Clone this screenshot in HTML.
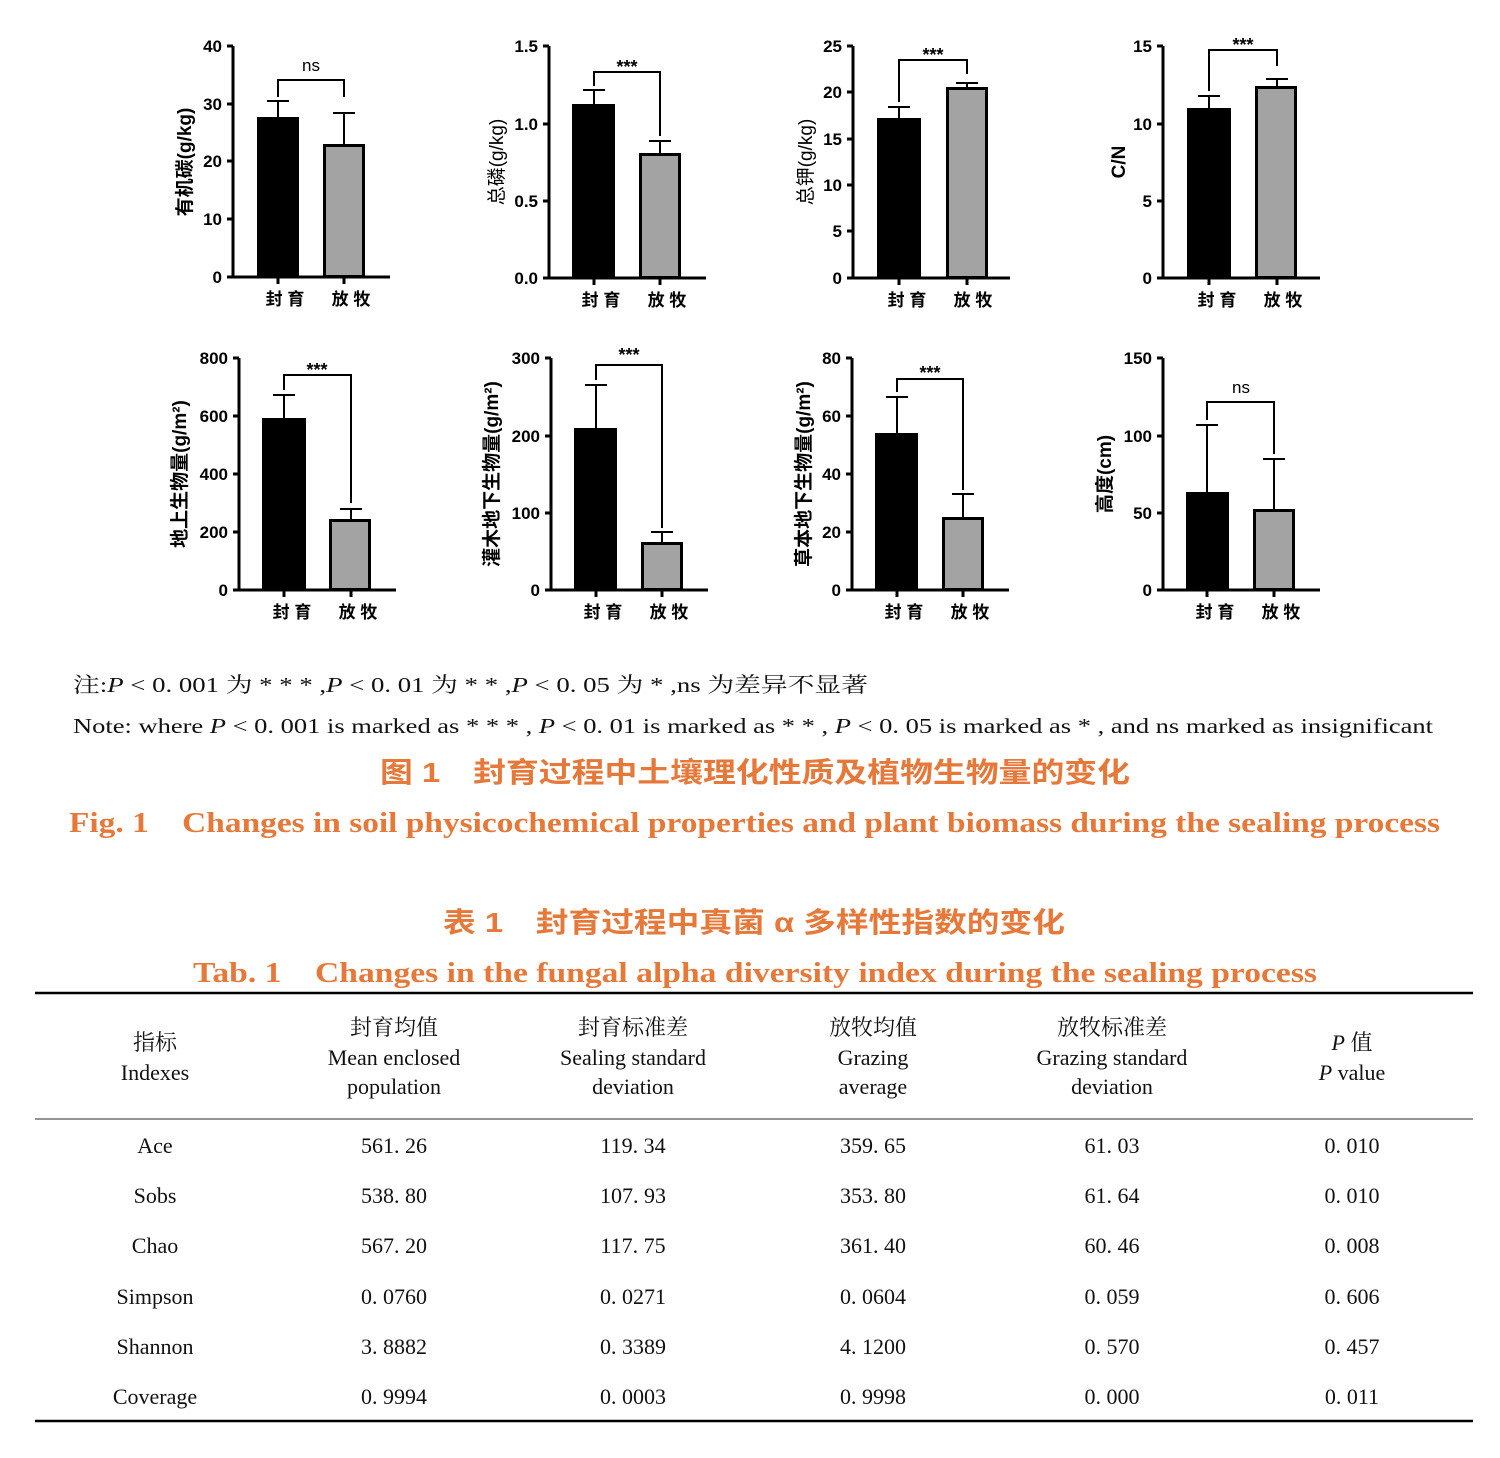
<!DOCTYPE html>
<html><head><meta charset="utf-8"><style>
body{margin:0;background:#fff}
svg{display:block}
.t{font-family:"Liberation Sans","Noto Sans CJK SC",sans-serif;font-weight:bold;font-size:17px;fill:#000}
.st{font-size:18px}
.yl{font-family:"Liberation Sans","Noto Sans CJK SC",sans-serif;font-weight:bold;font-size:19px;fill:#000}
.s{font-family:"Liberation Serif","Noto Serif CJK SC",serif;font-size:21px;fill:#111}
.o{font-family:"Liberation Serif","Noto Serif CJK SC",serif;font-weight:bold;font-size:29px;fill:#e6793a}
.oc{font-family:"Liberation Sans","Noto Sans CJK SC",sans-serif;font-weight:bold;font-size:28px;fill:#e6793a}
.tb{font-family:"Liberation Serif","Noto Serif CJK SC",serif;font-size:22px;fill:#111;text-anchor:middle}
line,path{stroke:#000;stroke-width:3;fill:none}
.e{stroke-width:2}
</style></head><body>
<svg width="1500" height="1458" xmlns="http://www.w3.org/2000/svg">
<!-- Chart 1 -->
<g>
<line x1="233" y1="46" x2="233" y2="278"/><line x1="232" y1="277" x2="390" y2="277"/>
<line x1="227" y1="46" x2="233" y2="46"/><line x1="227" y1="104" x2="233" y2="104"/><line x1="227" y1="161" x2="233" y2="161"/><line x1="227" y1="219" x2="233" y2="219"/><line x1="227" y1="277" x2="233" y2="277"/>
<text class="t" x="222" y="52" text-anchor="end">40</text><text class="t" x="222" y="110" text-anchor="end">30</text><text class="t" x="222" y="167" text-anchor="end">20</text><text class="t" x="222" y="225" text-anchor="end">10</text><text class="t" x="222" y="283" text-anchor="end">0</text>
<line x1="278" y1="277" x2="278" y2="284"/><line x1="344" y1="277" x2="344" y2="284"/>
<line class="e" x1="278" y1="117" x2="278" y2="101"/><line class="e" x1="267" y1="101" x2="289" y2="101"/>
<rect x="257" y="117" width="42" height="160" fill="#000"/>
<line class="e" x1="344" y1="145" x2="344" y2="113"/><line class="e" x1="333" y1="113" x2="355" y2="113"/>
<rect x="324.5" y="145.5" width="39" height="131" fill="#a3a3a3" stroke="#000" stroke-width="3"/>
<path d="M278 97V80H344V97" class="e"/><text class="t" x="311" y="71" text-anchor="middle" style="font-weight:normal;font-size:17px">ns</text>
<text class="t" x="285" y="305" text-anchor="middle">封 育</text><text class="t" x="351" y="305" text-anchor="middle">放 牧</text>
<text class="yl" transform="translate(191,162) rotate(-90)" text-anchor="middle">有机碳(g/kg)</text>
</g>
<!-- Chart 2 -->
<g>
<line x1="549" y1="46" x2="549" y2="279"/><line x1="548" y1="278" x2="706" y2="278"/>
<line x1="543" y1="46" x2="549" y2="46"/><line x1="543" y1="124" x2="549" y2="124"/><line x1="543" y1="201" x2="549" y2="201"/><line x1="543" y1="278" x2="549" y2="278"/>
<text class="t" x="538" y="52" text-anchor="end">1.5</text><text class="t" x="538" y="130" text-anchor="end">1.0</text><text class="t" x="538" y="207" text-anchor="end">0.5</text><text class="t" x="538" y="284" text-anchor="end">0.0</text>
<line x1="594" y1="278" x2="594" y2="285"/><line x1="660" y1="278" x2="660" y2="285"/>
<line class="e" x1="594" y1="104" x2="594" y2="90"/><line class="e" x1="583" y1="90" x2="605" y2="90"/>
<rect x="572" y="104" width="43" height="174" fill="#000"/>
<line class="e" x1="660" y1="154" x2="660" y2="141"/><line class="e" x1="649" y1="141" x2="671" y2="141"/>
<rect x="640.5" y="154.5" width="39" height="123" fill="#a3a3a3" stroke="#000" stroke-width="3"/>
<path d="M594 86V72H660V136" class="e"/><text class="t st" x="627" y="73" text-anchor="middle">***</text>
<text class="t" x="601" y="306" text-anchor="middle">封 育</text><text class="t" x="667" y="306" text-anchor="middle">放 牧</text>
<text class="yl" transform="translate(503,162) rotate(-90)" text-anchor="middle" style="font-weight:normal">总磷(g/kg)</text>
</g>
<!-- Chart 3 -->
<g>
<line x1="853" y1="46" x2="853" y2="279"/><line x1="852" y1="278" x2="1010" y2="278"/>
<line x1="847" y1="46" x2="853" y2="46"/><line x1="847" y1="92" x2="853" y2="92"/><line x1="847" y1="139" x2="853" y2="139"/><line x1="847" y1="185" x2="853" y2="185"/><line x1="847" y1="231" x2="853" y2="231"/><line x1="847" y1="278" x2="853" y2="278"/>
<text class="t" x="842" y="52" text-anchor="end">25</text><text class="t" x="842" y="98" text-anchor="end">20</text><text class="t" x="842" y="145" text-anchor="end">15</text><text class="t" x="842" y="191" text-anchor="end">10</text><text class="t" x="842" y="237" text-anchor="end">5</text><text class="t" x="842" y="284" text-anchor="end">0</text>
<line x1="899" y1="278" x2="899" y2="285"/><line x1="967" y1="278" x2="967" y2="285"/>
<line class="e" x1="899" y1="118" x2="899" y2="107"/><line class="e" x1="888" y1="107" x2="910" y2="107"/>
<rect x="877" y="118" width="44" height="160" fill="#000"/>
<line class="e" x1="967" y1="88" x2="967" y2="83"/><line class="e" x1="956" y1="83" x2="978" y2="83"/>
<rect x="947.5" y="88.5" width="39" height="189" fill="#a3a3a3" stroke="#000" stroke-width="3"/>
<path d="M899 102V60H967V74" class="e"/><text class="t st" x="933" y="61" text-anchor="middle">***</text>
<text class="t" x="907" y="306" text-anchor="middle">封 育</text><text class="t" x="973" y="306" text-anchor="middle">放 牧</text>
<text class="yl" transform="translate(812,162) rotate(-90)" text-anchor="middle" style="font-weight:normal">总钾(g/kg)</text>
</g>
<!-- Chart 4 -->
<g>
<line x1="1163" y1="46" x2="1163" y2="279"/><line x1="1162" y1="278" x2="1320" y2="278"/>
<line x1="1157" y1="46" x2="1163" y2="46"/><line x1="1157" y1="124" x2="1163" y2="124"/><line x1="1157" y1="201" x2="1163" y2="201"/><line x1="1157" y1="278" x2="1163" y2="278"/>
<text class="t" x="1152" y="52" text-anchor="end">15</text><text class="t" x="1152" y="130" text-anchor="end">10</text><text class="t" x="1152" y="207" text-anchor="end">5</text><text class="t" x="1152" y="284" text-anchor="end">0</text>
<line x1="1209" y1="278" x2="1209" y2="285"/><line x1="1277" y1="278" x2="1277" y2="285"/>
<line class="e" x1="1209" y1="108" x2="1209" y2="96"/><line class="e" x1="1198" y1="96" x2="1220" y2="96"/>
<rect x="1187" y="108" width="44" height="170" fill="#000"/>
<line class="e" x1="1277" y1="87" x2="1277" y2="79"/><line class="e" x1="1266" y1="79" x2="1288" y2="79"/>
<rect x="1256.5" y="87.5" width="39" height="190" fill="#a3a3a3" stroke="#000" stroke-width="3"/>
<path d="M1209 91V50H1277V66" class="e"/><text class="t st" x="1243" y="51" text-anchor="middle">***</text>
<text class="t" x="1217" y="306" text-anchor="middle">封 育</text><text class="t" x="1283" y="306" text-anchor="middle">放 牧</text>
<text class="yl" transform="translate(1125,162) rotate(-90)" text-anchor="middle">C/N</text>
</g>
<!-- Chart 5 -->
<g>
<line x1="239" y1="358" x2="239" y2="591"/><line x1="238" y1="590" x2="396" y2="590"/>
<line x1="233" y1="358" x2="239" y2="358"/><line x1="233" y1="416" x2="239" y2="416"/><line x1="233" y1="474" x2="239" y2="474"/><line x1="233" y1="532" x2="239" y2="532"/><line x1="233" y1="590" x2="239" y2="590"/>
<text class="t" x="228" y="364" text-anchor="end">800</text><text class="t" x="228" y="422" text-anchor="end">600</text><text class="t" x="228" y="480" text-anchor="end">400</text><text class="t" x="228" y="538" text-anchor="end">200</text><text class="t" x="228" y="596" text-anchor="end">0</text>
<line x1="284" y1="590" x2="284" y2="597"/><line x1="351" y1="590" x2="351" y2="597"/>
<line class="e" x1="284" y1="418" x2="284" y2="395"/><line class="e" x1="273" y1="395" x2="295" y2="395"/>
<rect x="262" y="418" width="44" height="172" fill="#000"/>
<line class="e" x1="351" y1="520" x2="351" y2="509"/><line class="e" x1="340" y1="509" x2="362" y2="509"/>
<rect x="330.5" y="520.5" width="39" height="69" fill="#a3a3a3" stroke="#000" stroke-width="3"/>
<path d="M284 390V375H351V503" class="e"/><text class="t st" x="317" y="376" text-anchor="middle">***</text>
<text class="t" x="292" y="618" text-anchor="middle">封 育</text><text class="t" x="358" y="618" text-anchor="middle">放 牧</text>
<text class="yl" transform="translate(186,474) rotate(-90)" text-anchor="middle">地上生物量(g/m²)</text>
</g>
<!-- Chart 6 -->
<g>
<line x1="551" y1="358" x2="551" y2="591"/><line x1="550" y1="590" x2="708" y2="590"/>
<line x1="545" y1="358" x2="551" y2="358"/><line x1="545" y1="436" x2="551" y2="436"/><line x1="545" y1="513" x2="551" y2="513"/><line x1="545" y1="590" x2="551" y2="590"/>
<text class="t" x="540" y="364" text-anchor="end">300</text><text class="t" x="540" y="442" text-anchor="end">200</text><text class="t" x="540" y="519" text-anchor="end">100</text><text class="t" x="540" y="596" text-anchor="end">0</text>
<line x1="596" y1="590" x2="596" y2="597"/><line x1="662" y1="590" x2="662" y2="597"/>
<line class="e" x1="596" y1="428" x2="596" y2="385"/><line class="e" x1="585" y1="385" x2="607" y2="385"/>
<rect x="574" y="428" width="43" height="162" fill="#000"/>
<line class="e" x1="662" y1="543" x2="662" y2="532"/><line class="e" x1="651" y1="532" x2="673" y2="532"/>
<rect x="642.5" y="543.5" width="39" height="46" fill="#a3a3a3" stroke="#000" stroke-width="3"/>
<path d="M596 380V365H662V528" class="e"/><text class="t st" x="629" y="361" text-anchor="middle">***</text>
<text class="t" x="603" y="618" text-anchor="middle">封 育</text><text class="t" x="669" y="618" text-anchor="middle">放 牧</text>
<text class="yl" transform="translate(498,474) rotate(-90)" text-anchor="middle">灌木地下生物量(g/m²)</text>
</g>
<!-- Chart 7 -->
<g>
<line x1="852" y1="358" x2="852" y2="591"/><line x1="851" y1="590" x2="1009" y2="590"/>
<line x1="846" y1="358" x2="852" y2="358"/><line x1="846" y1="416" x2="852" y2="416"/><line x1="846" y1="474" x2="852" y2="474"/><line x1="846" y1="532" x2="852" y2="532"/><line x1="846" y1="590" x2="852" y2="590"/>
<text class="t" x="841" y="364" text-anchor="end">80</text><text class="t" x="841" y="422" text-anchor="end">60</text><text class="t" x="841" y="480" text-anchor="end">40</text><text class="t" x="841" y="538" text-anchor="end">20</text><text class="t" x="841" y="596" text-anchor="end">0</text>
<line x1="897" y1="590" x2="897" y2="597"/><line x1="963" y1="590" x2="963" y2="597"/>
<line class="e" x1="897" y1="433" x2="897" y2="397"/><line class="e" x1="886" y1="397" x2="908" y2="397"/>
<rect x="875" y="433" width="43" height="157" fill="#000"/>
<line class="e" x1="963" y1="518" x2="963" y2="494"/><line class="e" x1="952" y1="494" x2="974" y2="494"/>
<rect x="943.5" y="518.5" width="39" height="71" fill="#a3a3a3" stroke="#000" stroke-width="3"/>
<path d="M897 392V379H963V490" class="e"/><text class="t st" x="930" y="379" text-anchor="middle">***</text>
<text class="t" x="904" y="618" text-anchor="middle">封 育</text><text class="t" x="970" y="618" text-anchor="middle">放 牧</text>
<text class="yl" transform="translate(810,474) rotate(-90)" text-anchor="middle">草本地下生物量(g/m²)</text>
</g>
<!-- Chart 8 -->
<g>
<line x1="1163" y1="358" x2="1163" y2="591"/><line x1="1162" y1="590" x2="1320" y2="590"/>
<line x1="1157" y1="358" x2="1163" y2="358"/><line x1="1157" y1="436" x2="1163" y2="436"/><line x1="1157" y1="513" x2="1163" y2="513"/><line x1="1157" y1="590" x2="1163" y2="590"/>
<text class="t" x="1152" y="364" text-anchor="end">150</text><text class="t" x="1152" y="442" text-anchor="end">100</text><text class="t" x="1152" y="519" text-anchor="end">50</text><text class="t" x="1152" y="596" text-anchor="end">0</text>
<line x1="1207" y1="590" x2="1207" y2="597"/><line x1="1274" y1="590" x2="1274" y2="597"/>
<line class="e" x1="1207" y1="492" x2="1207" y2="425"/><line class="e" x1="1196" y1="425" x2="1218" y2="425"/>
<rect x="1186" y="492" width="43" height="98" fill="#000"/>
<line class="e" x1="1274" y1="510" x2="1274" y2="459"/><line class="e" x1="1263" y1="459" x2="1285" y2="459"/>
<rect x="1254.5" y="510.5" width="39" height="79" fill="#a3a3a3" stroke="#000" stroke-width="3"/>
<path d="M1207 420V402H1274V454" class="e"/><text class="t" x="1241" y="393" text-anchor="middle" style="font-weight:normal;font-size:17px">ns</text>
<text class="t" x="1215" y="618" text-anchor="middle">封 育</text><text class="t" x="1281" y="618" text-anchor="middle">放 牧</text>
<text class="yl" transform="translate(1111,474) rotate(-90)" text-anchor="middle">高度(cm)</text>
</g>
<!-- Notes -->
<text class="s" x="73" y="692" textLength="795" lengthAdjust="spacingAndGlyphs">注:<tspan font-style="italic">P</tspan> &lt; 0. 001 为 * * * ,<tspan font-style="italic">P</tspan> &lt; 0. 01 为 * * ,<tspan font-style="italic">P</tspan> &lt; 0. 05 为 * ,ns 为差异不显著</text>
<text class="s" x="73" y="733" textLength="1360" lengthAdjust="spacingAndGlyphs">Note: where <tspan font-style="italic">P</tspan> &lt; 0. 001 is marked as * * * , <tspan font-style="italic">P</tspan> &lt; 0. 01 is marked as * * , <tspan font-style="italic">P</tspan> &lt; 0. 05 is marked as * , and ns marked as insignificant</text>
<text class="oc" x="380" y="782" textLength="750" lengthAdjust="spacingAndGlyphs">图 1　封育过程中土壤理化性质及植物生物量的变化</text>
<text class="o" x="69" y="832" textLength="1371" lengthAdjust="spacingAndGlyphs">Fig. 1　Changes in soil physicochemical properties and plant biomass during the sealing process</text>
<text class="oc" x="443" y="932" textLength="622" lengthAdjust="spacingAndGlyphs">表 1　封育过程中真菌 α 多样性指数的变化</text>
<text class="o" x="193" y="982" textLength="1124" lengthAdjust="spacingAndGlyphs">Tab. 1　Changes in the fungal alpha diversity index during the sealing process</text>
<!-- Table -->
<line x1="35" y1="993" x2="1473" y2="993" style="stroke-width:2.5"/>
<line x1="35" y1="1119" x2="1473" y2="1119" style="stroke-width:1.2;stroke:#555"/>
<line x1="35" y1="1421" x2="1473" y2="1421" style="stroke-width:2.5"/>
<g class="tb">
<text class="tb" x="155" y="1050">指标</text><text class="tb" x="155" y="1080">Indexes</text>
<text class="tb" x="394" y="1035">封育均值</text><text class="tb" x="394" y="1065">Mean enclosed</text><text class="tb" x="394" y="1094">population</text>
<text class="tb" x="633" y="1035">封育标准差</text><text class="tb" x="633" y="1065">Sealing standard</text><text class="tb" x="633" y="1094">deviation</text>
<text class="tb" x="873" y="1035">放牧均值</text><text class="tb" x="873" y="1065">Grazing</text><text class="tb" x="873" y="1094">average</text>
<text class="tb" x="1112" y="1035">放牧标准差</text><text class="tb" x="1112" y="1065">Grazing standard</text><text class="tb" x="1112" y="1094">deviation</text>
<text class="tb" x="1352" y="1050"><tspan font-style="italic">P</tspan> 值</text><text class="tb" x="1352" y="1080"><tspan font-style="italic">P</tspan> value</text>
<text class="tb" x="155" y="1153">Ace</text><text class="tb" x="394" y="1153">561. 26</text><text class="tb" x="633" y="1153">119. 34</text><text class="tb" x="873" y="1153">359. 65</text><text class="tb" x="1112" y="1153">61. 03</text><text class="tb" x="1352" y="1153">0. 010</text>
<text class="tb" x="155" y="1203">Sobs</text><text class="tb" x="394" y="1203">538. 80</text><text class="tb" x="633" y="1203">107. 93</text><text class="tb" x="873" y="1203">353. 80</text><text class="tb" x="1112" y="1203">61. 64</text><text class="tb" x="1352" y="1203">0. 010</text>
<text class="tb" x="155" y="1253">Chao</text><text class="tb" x="394" y="1253">567. 20</text><text class="tb" x="633" y="1253">117. 75</text><text class="tb" x="873" y="1253">361. 40</text><text class="tb" x="1112" y="1253">60. 46</text><text class="tb" x="1352" y="1253">0. 008</text>
<text class="tb" x="155" y="1304">Simpson</text><text class="tb" x="394" y="1304">0. 0760</text><text class="tb" x="633" y="1304">0. 0271</text><text class="tb" x="873" y="1304">0. 0604</text><text class="tb" x="1112" y="1304">0. 059</text><text class="tb" x="1352" y="1304">0. 606</text>
<text class="tb" x="155" y="1354">Shannon</text><text class="tb" x="394" y="1354">3. 8882</text><text class="tb" x="633" y="1354">0. 3389</text><text class="tb" x="873" y="1354">4. 1200</text><text class="tb" x="1112" y="1354">0. 570</text><text class="tb" x="1352" y="1354">0. 457</text>
<text class="tb" x="155" y="1404">Coverage</text><text class="tb" x="394" y="1404">0. 9994</text><text class="tb" x="633" y="1404">0. 0003</text><text class="tb" x="873" y="1404">0. 9998</text><text class="tb" x="1112" y="1404">0. 000</text><text class="tb" x="1352" y="1404">0. 011</text>
</g>
</svg>
</body></html>
